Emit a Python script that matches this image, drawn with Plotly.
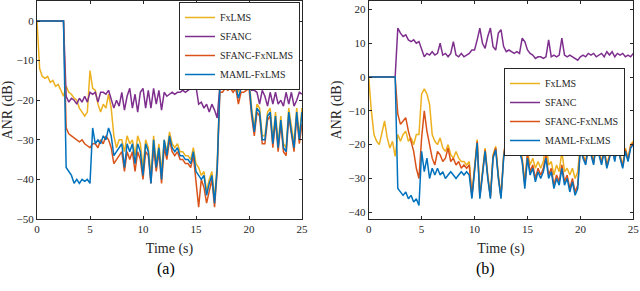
import plotly.graph_objects as go

# ---------------- data ----------------
t_step = 0.25
n_pts = 101
time_s = [i * t_step for i in range(n_pts)]

series_names = ["FxLMS", "SFANC", "SFANC-FxNLMS", "MAML-FxLMS"]
series_colors = ["#EDB120", "#7E2F8E", "#D95319", "#0072BD"]

# (a)
a_fxlms = [0, -12, -14, -14.5, -14, -15.5, -15, -16.5, -16, -17.5, -19, -16.5, -18, -18.5, -19.5, -20,
           -22, -23, -24, -23, -12.5, -17, -17.5, -21, -23, -21, -22, -18.5, -22, -29, -32, -30, -30, -33,
           -29, -31, -30, -34, -29, -31, -37, -30, -32, -39, -29, -36, -31, -38, -30, -33, -28, -31, -32,
           -31, -33, -33, -34, -34, -35, -32, -36, -37, -39, -38, -43, -40, -38, -45, -36, -16, -16, -15,
           -15.5, -15, -16, -15, -18, -16, -15, -15.5, -14.5, -22, -27, -21, -22, -29, -29, -23, -22, -30,
           -23, -31, -24, -31, -32, -22, -27, -31, -22, -29, -22]
a_sfanc = [0, 0, 0, 0, 0, 0, 0, 0, 0, 0, 0, -19, -20.5, -19.5, -20, -21, -19.5, -20.5, -19, -20.5, -18,
           -18.5, -18, -20.5, -18, -18, -18.5, -17.5, -20, -22, -20, -21.5, -18, -22.5, -19, -17, -22,
           -18.5, -23, -18, -17, -22, -17.5, -22, -17, -21, -17.5, -22.5, -18, -19, -18.5, -18, -18.5,
           -18, -18, -17.5, -18, -17.5, -17, -17, -16.5, -21, -20.5, -22, -21, -23, -21, -22.5, -24.5,
           -16.5, -16, -15.5, -16, -15, -16, -15.5, -16, -15.5, -15, -15, -15, -17.5, -17.5, -18, -21,
           -17.5, -19, -21.5, -18, -21, -18, -21, -20, -21.5, -18, -21, -18, -21.5, -20, -18, -18.5]
a_sfanc_fxnlms = [0, 0, 0, 0, 0, 0, 0, 0, 0, 0, 0, -27, -28.5, -29, -29.5, -30, -30.5, -30, -31, -31.5,
                  -32, -31, -31, -32, -30, -31, -29, -30, -32, -36, -35, -34, -33, -38, -33, -35, -33, -38,
                  -33, -35, -40, -33, -34, -41, -32, -38, -33, -41, -32, -35, -30, -33, -34, -33, -35, -35,
                  -36, -36, -37, -34, -40, -47, -40, -42, -46, -43, -40, -47, -38, -18, -18, -17, -17.5,
                  -17, -18, -17, -21, -18, -18, -17.5, -17, -24, -29, -23, -24, -31, -31, -25, -24, -32,
                  -25, -33, -26, -33, -34, -24, -29, -33, -24, -31, -26]
a_maml = [0, 0, 0, 0, 0, 0, 0, 0, 0, 0, 0, -37, -38, -39, -41, -40, -41, -40, -40.5, -40, -41, -27, -31,
          -30, -31, -29, -30, -27, -29, -34, -33, -32, -31, -37, -31, -33, -31, -36, -31, -33, -39, -31,
          -33, -41, -30, -37, -32, -40, -30, -34, -29, -32, -33, -32, -34, -34, -35, -35, -36, -33, -38,
          -39, -40, -39, -44, -41, -39, -46, -37, -17, -16.5, -16, -16.5, -16, -17, -16, -19.5, -17, -16,
          -16.5, -15.5, -23, -28, -22, -23, -30, -30, -24, -23, -31, -24, -32, -25, -32, -33, -23, -28,
          -32, -23, -30, -23]

# (b)
b_fxlms = [0, -10, -17, -19, -20, -16, -13, -18, -21, -19, -23.5,
           -17, -19, -17, -16, -19, -18, -20, -17, -17,
           -5,
           -3.5, -5, -8, -17, -19, -20, -18, -21, -22, -20, -23, -24, -22, -24, -25, -25, -26, -25,
           -35, -27, -18.5, -35, -27, -21, -29, -35, -23, -20.5, -29, -35, -23, -17.5, -17.5, -18, -19.5,
           -20, -21, -24, -31, -22,
           -26, -24, -27, -25, -27, -25, -19, -26, -25, -29, -26, -28, -22, -28, -27, -29, -27, -30, -28,
           -20, -23, -25, -20, -22, -25, -19, -22, -25, -21, -26, -23, -20, -24, -19, -23, -26, -21, -24,
           -20, -19]
b_sfanc = [0, 0, 0, 0, 0, 0, 0, 0, 0, 0, 0, 14.5, 13, 12, 12.5, 11, 10.5, 11, 10, 10.5, 8, 6, 7, 6.5, 7.5,
           6.5, 7, 10, 6.5, 7, 6, 7, 10.5, 6.5, 6, 7, 6, 6.5, 7, 8, 8, 11, 14.5, 10, 8.5, 12, 14.5, 9, 8,
           13, 14, 9, 7.5, 8, 7.5, 7, 7.5, 7, 11.5, 10.5, 8, 7, 6.5, 5.5, 6, 6, 5.5, 6, 11, 6, 6.5, 6,
           6.5, 11.5, 6.5, 6, 6.5, 6, 5.5, 5, 6, 6.5, 6, 7, 6.5, 7, 6, 6.5, 7, 6, 7.5, 6.5, 7.5, 6, 7,
           6.5, 7, 6, 6.5, 6, 7]
b_sfanc_fxnlms = [0, 0, 0, 0, 0, 0, 0, 0, 0, 0, 0,
                  -11, -14, -13, -12, -16, -19, -22, -27, -30,
                  -18,
                  -10, -16, -20, -24, -26, -22, -23, -25, -24, -21, -25, -24, -26, -25, -27, -26, -27, -26,
                  -35.5, -27.5, -19, -35.5, -27.5, -21.5, -29.5, -35.5, -23.5, -21, -29.5, -35.5, -23.5,
                  -17.5, -18, -18.5, -20, -20.5, -21.5, -24.5, -32, -23,
                  -28, -26, -30, -27, -29, -27, -23, -29, -27, -32, -29, -31, -26, -31, -29, -33, -30, -34,
                  -32,
                  -20.5, -23.5, -25.5, -20.5, -22.5, -25.5, -19.5, -22.5, -25.5, -21.5, -26.5, -23.5,
                  -20.5, -24.5, -19.5, -23.5, -26.5, -21.5, -24.5, -20.5, -19.5]
b_maml = [0, 0, 0, 0, 0, 0, 0, 0, 0, 0, 0,
          -33, -34, -35, -34, -36, -35, -37, -36, -38,
          -22,
          -28, -24, -30, -27, -29, -27, -29, -28, -30, -29, -28, -29, -30, -29, -28, -29, -28, -29,
          -36, -28, -19.5, -36, -28, -22, -30, -36, -24, -21.5, -30, -36, -24, -18, -18.5, -19, -20.5,
          -21, -22, -25, -33, -24,
          -29, -27, -31, -28, -30, -28, -24, -30, -28, -33, -30, -32, -27, -32, -30, -34, -31, -35, -33,
          -21, -24, -26, -21, -23, -26, -20, -23, -26, -22, -27, -24, -21, -25, -20, -24, -27, -22, -25,
          -21, -20]

x_ticks = [0, 5, 10, 15, 20, 25]
a_y_ticks = [0, -10, -20, -30, -40, -50]
b_y_ticks = [20, 10, 0, -10, -20, -30, -40]

panels = [
    dict(series=[a_fxlms, a_sfanc, a_sfanc_fxnlms, a_maml], legend="legend", xa="x", ya="y"),
    dict(series=[b_fxlms, b_sfanc, b_sfanc_fxnlms, b_maml], legend="legend2", xa="x2", ya="y2"),
]

# ---------------- figure ----------------
fig = go.Figure()
for p in panels:
    for name, color, vals in zip(series_names, series_colors, p["series"]):
        fig.add_trace(go.Scatter(
            x=time_s, y=vals, mode="lines", name=name,
            line=dict(color=color, width=1.5),
            xaxis=p["xa"], yaxis=p["ya"], legend=p["legend"],
        ))

W, H = 640, 291
SERIF = "Liberation Serif"
axis_font = dict(family=SERIF, size=11, color="#262626")
title_font = dict(family=SERIF, size=14, color="#262626")
common = dict(showline=True, linecolor="#262626", linewidth=1, mirror="ticks",
              ticks="inside", ticklen=3, tickcolor="#262626", showgrid=False,
              zeroline=False, tickfont=axis_font, automargin=False)
leg_common = dict(bgcolor="white", bordercolor="#262626", borderwidth=1,
                  font=dict(family=SERIF, size=10, color="#262626"),
                  itemwidth=30, tracegroupgap=0)

fig.update_layout(
    width=W, height=H, margin=dict(l=0, r=0, t=0, b=0, autoexpand=False),
    paper_bgcolor="white", plot_bgcolor="white",
    font=dict(family=SERIF),
    xaxis=dict(domain=[37 / W, 302 / W], range=[0, 25], tickvals=x_ticks,
               title=dict(text="Time (s)", font=title_font, standoff=8), anchor="y", **common),
    yaxis=dict(domain=[(H - 219) / H, (H - 1.2) / H], range=[-50, 5], tickvals=a_y_ticks,
               title=dict(text="ANR (dB)", font=title_font, standoff=3), anchor="x", **common),
    xaxis2=dict(domain=[368.7 / W, 633.3 / W], range=[0, 25], tickvals=x_ticks,
                title=dict(text="Time (s)", font=title_font, standoff=8), anchor="y2", **common),
    yaxis2=dict(domain=[(H - 219) / H, (H - 1) / H], range=[-42, 22.5], tickvals=b_y_ticks,
                title=dict(text="ANR (dB)", font=title_font, standoff=3), anchor="x2", **common),
    legend=dict(x=300 / W, y=1 - 2 / H, xanchor="right", yanchor="top", **leg_common),
    legend2=dict(x=625 / W, y=1 - 68 / H, xanchor="right", yanchor="top", **leg_common),
    annotations=[
        dict(text="(a)", x=155 / W, y=1 - 280 / H, xref="paper", yref="paper",
             showarrow=False, font=dict(family=SERIF, size=16, color="black")),
        dict(text="(b)", x=497 / W, y=1 - 280 / H, xref="paper", yref="paper",
             showarrow=False, font=dict(family=SERIF, size=16, color="black")),
    ],
)

fig.write_html("out.html", config={"displayModeBar": False},
               post_script="document.body.style.margin='0';document.body.style.padding='0';"
                           "document.documentElement.style.overflow='hidden';")
